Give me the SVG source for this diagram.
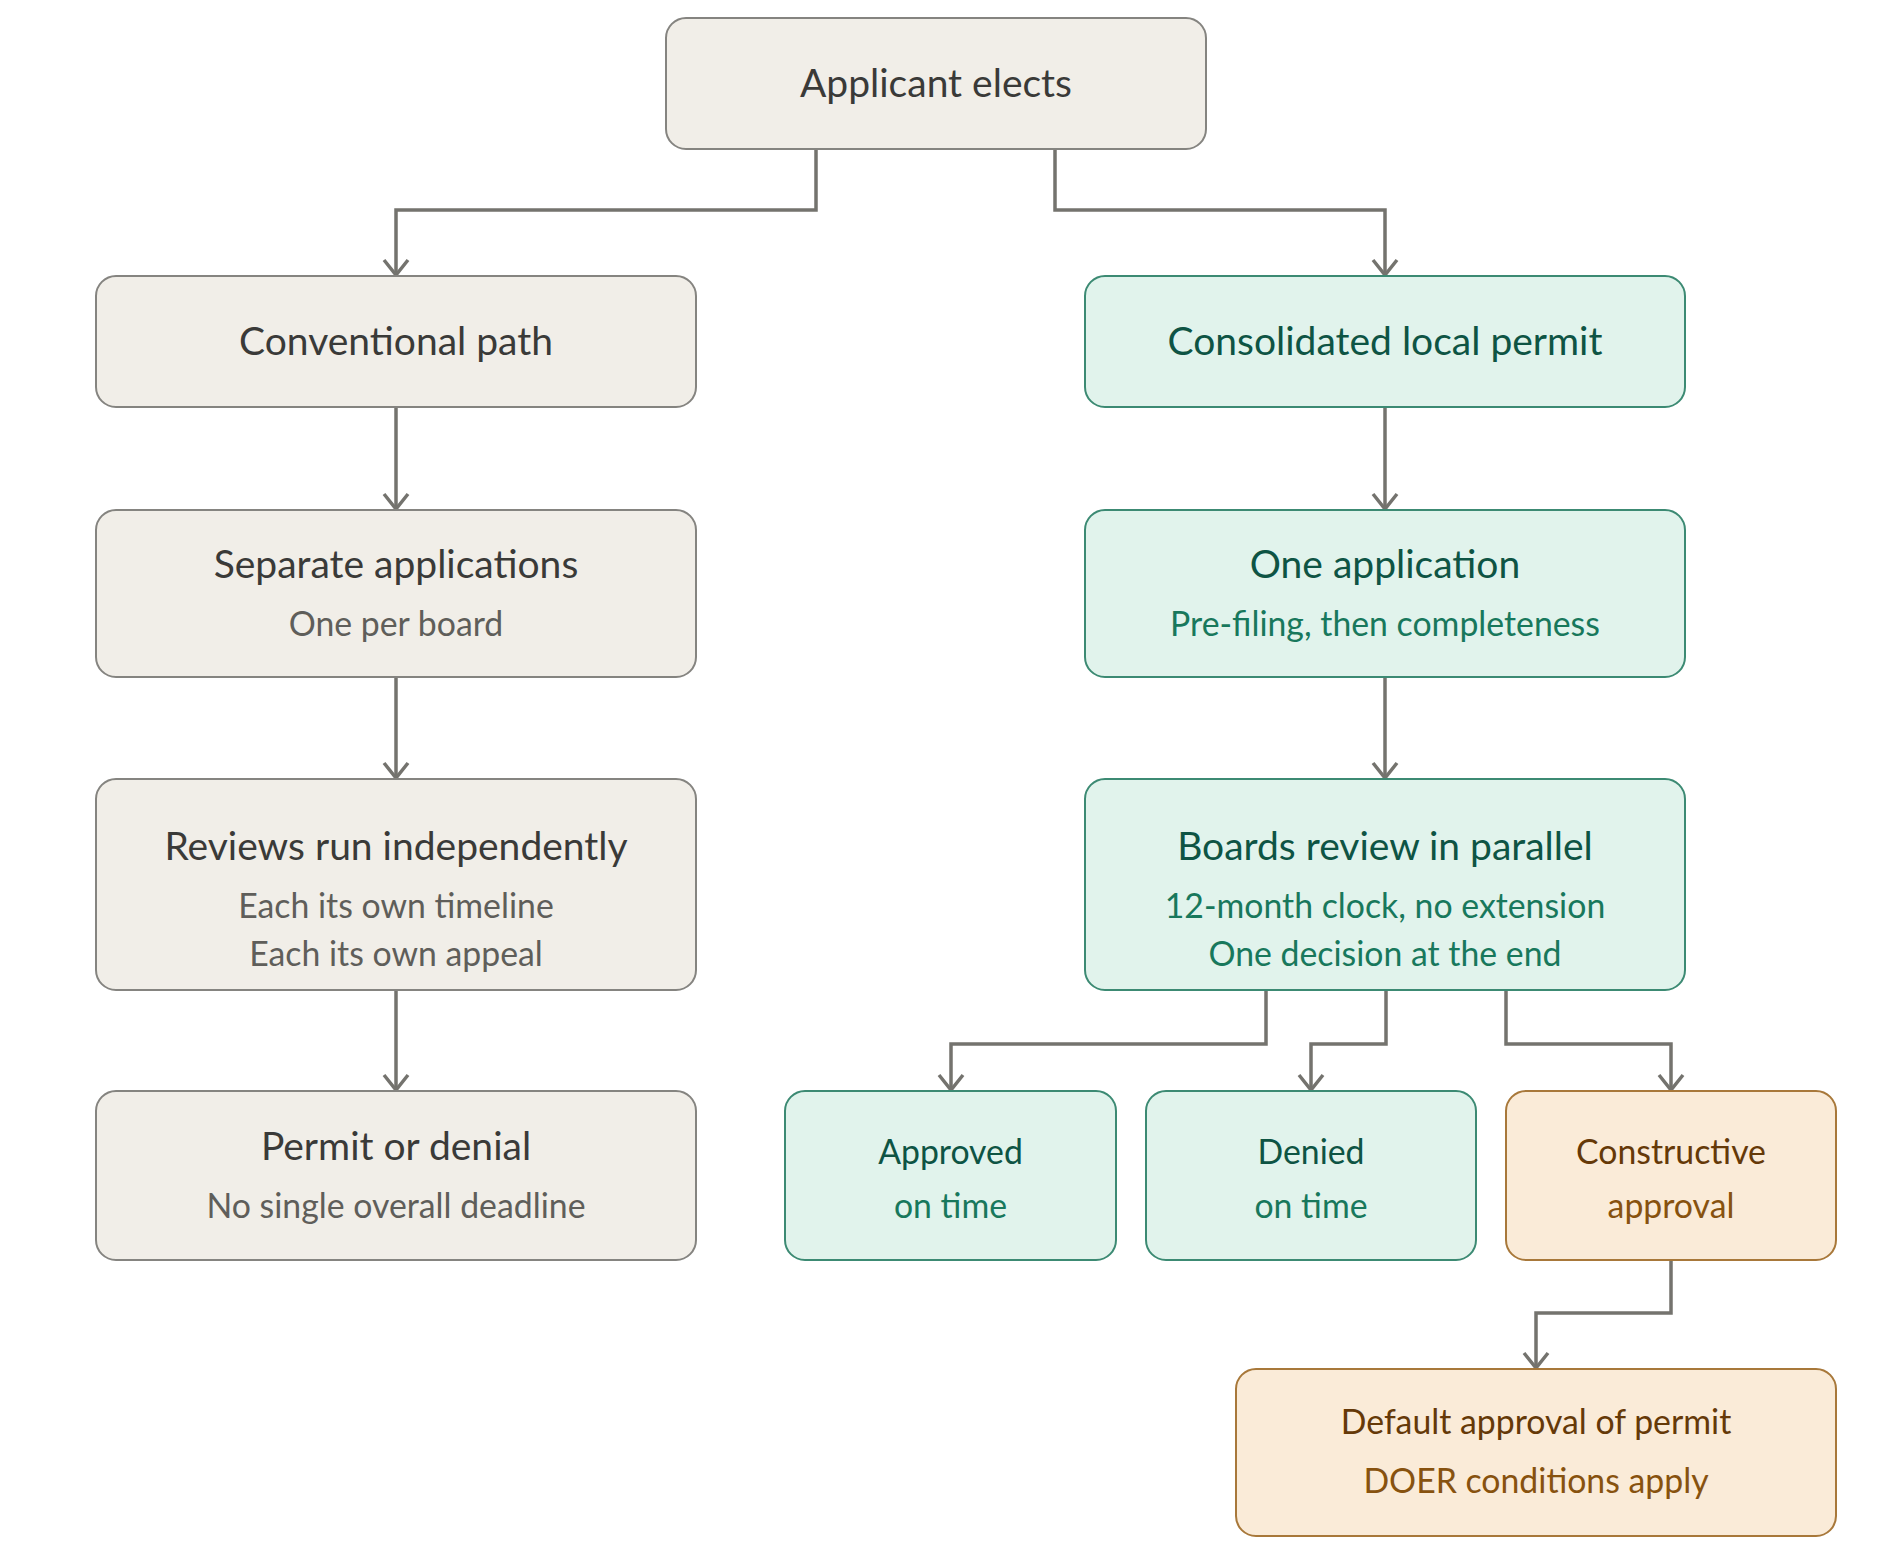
<svg xmlns="http://www.w3.org/2000/svg" width="1889" height="1556" viewBox="0 0 1889 1556">
<defs>
<style>
text{font-family:Lato,"Open Sans","Liberation Sans",sans-serif;text-anchor:middle}
.t{font-size:39px}
.s{font-size:33.8px}
.n rect{fill:#F1EEE8;stroke:#858480;stroke-width:2}
.n .t{fill:#3a3a38}
.n .s{fill:#5f5e5a}
.g rect{fill:#E1F3EC;stroke:#3C8A73;stroke-width:2}
.g .t{fill:#0E5444}
.g .s{fill:#18785C}
.g .s.h{fill:#0E5444}
.o rect{fill:#FAEBD8;stroke:#A8783A;stroke-width:2}
.o .s{fill:#87520F}
.o .s.h{fill:#653908}
.c path{fill:none;stroke:#74736E;stroke-width:3.5;marker-end:url(#ah)}
</style>
<marker id="ah" viewBox="-17 -14 19 28" refX="0" refY="0" markerWidth="19" markerHeight="28" markerUnits="userSpaceOnUse" orient="auto">
<path d="M-15,-12 L0,0 L-15,12" fill="none" stroke="#74736E" stroke-width="3.5"/>
</marker>
</defs>
<rect width="1889" height="1556" fill="#ffffff"/>
<g class="c" id="connectors">
<path d="M816,150 V210 H396 V275"/>
<path d="M1055,150 V210 H1385 V275"/>
<path d="M396,408 V509"/>
<path d="M1385,408 V509"/>
<path d="M396,678 V778"/>
<path d="M1385,678 V778"/>
<path d="M396,991 V1090"/>
<path d="M1266,991 V1044 H951 V1090"/>
<path d="M1386,991 V1044 H1311 V1090"/>
<path d="M1506,991 V1044 H1671 V1090"/>
<path d="M1671,1261 V1313 H1536 V1368"/>
</g>
<g id="n1" class="n"><rect x="666" y="18" width="540" height="131" rx="20"/><text class="t" x="936" y="97">Applicant elects</text></g>
<g id="n2" class="n"><rect x="96" y="276" width="600" height="131" rx="20"/><text class="t" x="396" y="355">Conventional path</text></g>
<g id="n3" class="g"><rect x="1085" y="276" width="600" height="131" rx="20"/><text class="t" x="1385" y="355">Consolidated local permit</text></g>
<g id="n4" class="n"><rect x="96" y="510" width="600" height="167" rx="20"/><text class="t" x="396" y="578">Separate applications</text><text class="s" x="396" y="636">One per board</text></g>
<g id="n5" class="g"><rect x="1085" y="510" width="600" height="167" rx="20"/><text class="t" x="1385" y="578">One application</text><text class="s" x="1385" y="636">Pre-filing, then completeness</text></g>
<g id="n6" class="n"><rect x="96" y="779" width="600" height="211" rx="20"/><text class="t" x="396" y="860">Reviews run independently</text><text class="s" x="396" y="918">Each its own timeline</text><text class="s" x="396" y="966">Each its own appeal</text></g>
<g id="n7" class="g"><rect x="1085" y="779" width="600" height="211" rx="20"/><text class="t" x="1385" y="860">Boards review in parallel</text><text class="s" x="1385" y="918">12-month clock, no extension</text><text class="s" x="1385" y="966">One decision at the end</text></g>
<g id="n8" class="n"><rect x="96" y="1091" width="600" height="169" rx="20"/><text class="t" x="396" y="1160">Permit or denial</text><text class="s" x="396" y="1218">No single overall deadline</text></g>
<g id="n9" class="g"><rect x="785" y="1091" width="331" height="169" rx="20"/><text class="s h" x="950.5" y="1164">Approved</text><text class="s" x="950.5" y="1218">on time</text></g>
<g id="n10" class="g"><rect x="1146" y="1091" width="330" height="169" rx="20"/><text class="s h" x="1311" y="1164">Denied</text><text class="s" x="1311" y="1218">on time</text></g>
<g id="n11" class="o"><rect x="1506" y="1091" width="330" height="169" rx="20"/><text class="s h" x="1671" y="1164">Constructive</text><text class="s" x="1671" y="1218">approval</text></g>
<g id="n12" class="o"><rect x="1236" y="1369" width="600" height="167" rx="20"/><text class="s h" x="1536" y="1434">Default approval of permit</text><text class="s" x="1536" y="1493">DOER conditions apply</text></g>
</svg>
